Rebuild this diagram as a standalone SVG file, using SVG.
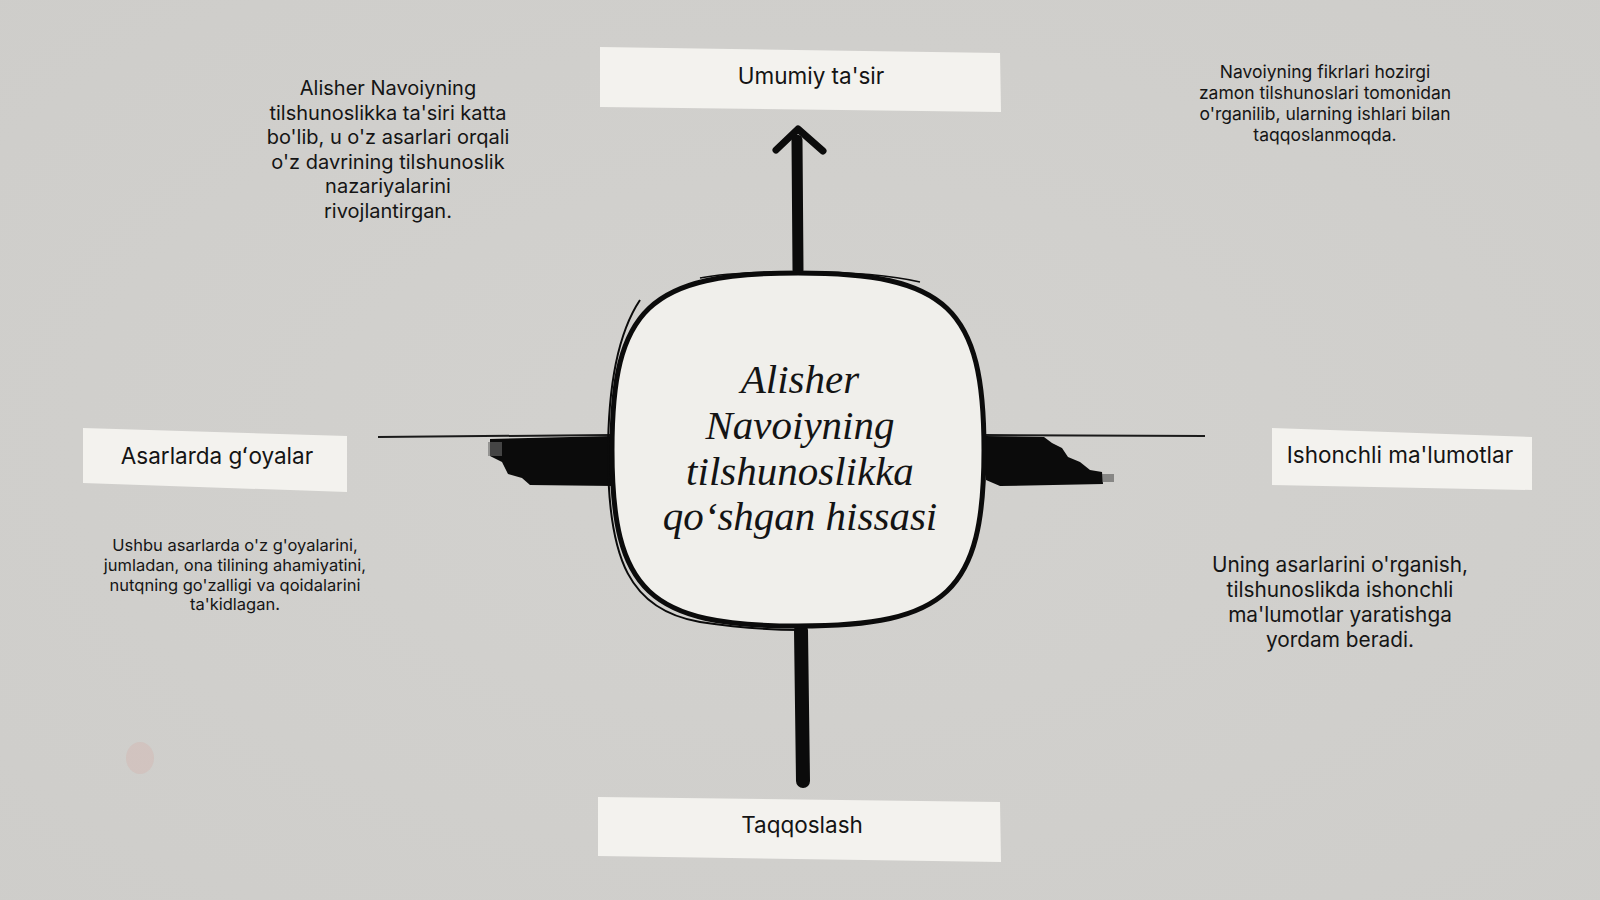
<svg xmlns="http://www.w3.org/2000/svg" width="1600" height="900" viewBox="0 0 1600 900">
<defs>
<style>
.tape{fill:#f3f2ee;}
.lbl{font-family:Inter,"Noto Sans","Liberation Sans",sans-serif;font-size:22.5px;fill:#141414;text-anchor:middle;}
.para{font-family:Inter,"Noto Sans","Liberation Sans",sans-serif;fill:#151515;text-anchor:middle;}
.title{font-family:"Liberation Serif","DejaVu Serif",serif;font-style:italic;font-size:41px;fill:#141414;text-anchor:middle;}
.ink{fill:#0b0b0b;}
</style>
<radialGradient id="bg" cx="0.5" cy="0.5" r="0.75">
<stop offset="0" stop-color="#d3d2cf"/>
<stop offset="1" stop-color="#cecdca"/>
</radialGradient>
</defs>
<rect width="1600" height="900" fill="url(#bg)"/>
<ellipse cx="140" cy="758" rx="14" ry="16" fill="#d9a59a" opacity="0.25"/>

<g id="connectors">
<path d="M798 270 L797 140" stroke="#0b0b0b" stroke-width="11" fill="none" stroke-linecap="round"/>
<path d="M776 150 L798 129 L823 151" stroke="#0b0b0b" stroke-width="7" fill="none" stroke-linecap="round" stroke-linejoin="round"/>
<path d="M801 630 L803 781" stroke="#0b0b0b" stroke-width="14" fill="none" stroke-linecap="round"/>
<path d="M378 437 L612 435" stroke="#1a1a1a" stroke-width="2" fill="none"/>
<polygon class="ink" points="490,439 612,436 614,486 530,485 522,478 508,474 502,462 490,456"/>
<rect x="488" y="442" width="14" height="14" fill="#6a6a6a" opacity="0.6"/>
<path d="M985 435 L1205 436" stroke="#1a1a1a" stroke-width="2" fill="none"/>
<polygon class="ink" points="986,436 1044,437 1052,443 1062,448 1068,457 1080,462 1090,470 1102,472 1103,484 1000,486 986,480"/>
<rect x="1102" y="474" width="12" height="8" fill="#555" opacity="0.6"/>
</g>

<g id="center">
<path d="M798 273 C947 273 984 308 984 450 C984 592 947 626 798 626 C649 626 612 592 612 450 C612 308 649 273 798 273 Z" fill="#f0efeb" stroke="#0b0b0b" stroke-width="5"/>
<path d="M640 300 C620 330 608 380 608 455 C608 560 630 610 700 622 C740 628 770 630 800 630" fill="none" stroke="#0b0b0b" stroke-width="2"/>
<path d="M700 278 C740 270 860 268 920 282" fill="none" stroke="#0b0b0b" stroke-width="1.5"/>
<text class="title" x="800" y="393">Alisher</text>
<text class="title" x="800" y="439">Navoiyning</text>
<text class="title" x="800" y="485">tilshunoslikka</text>
<text class="title" x="800" y="530">qoʻshgan hissasi</text>
</g>

<g id="node-top">
<polygon class="tape" points="600,47 1000,53 1001,112 600,107"/>
<text class="lbl" x="811" y="84">Umumiy ta'sir</text>
</g>

<g id="node-bottom">
<polygon class="tape" points="598,797 1000,802 1001,862 598,856"/>
<text class="lbl" x="802" y="833">Taqqoslash</text>
</g>

<g id="node-left">
<polygon class="tape" points="83,428 347,436 347,492 83,483"/>
<text class="lbl" x="217" y="464">Asarlarda gʻoyalar</text>
</g>

<g id="node-right">
<polygon class="tape" points="1272,428 1532,437 1532,490 1272,485"/>
<text class="lbl" x="1400" y="463">Ishonchli ma'lumotlar</text>
</g>

<g id="text-topleft" class="para" font-size="20">
<text x="388" y="95">Alisher Navoiyning</text>
<text x="388" y="119.5">tilshunoslikka ta'siri katta</text>
<text x="388" y="144">bo'lib, u o'z asarlari orqali</text>
<text x="388" y="168.5">o'z davrining tilshunoslik</text>
<text x="388" y="193">nazariyalarini</text>
<text x="388" y="217.5">rivojlantirgan.</text>
</g>

<g id="text-topright" class="para" font-size="17.5">
<text x="1325" y="78">Navoiyning fikrlari hozirgi</text>
<text x="1325" y="99">zamon tilshunoslari tomonidan</text>
<text x="1325" y="120">o'rganilib, ularning ishlari bilan</text>
<text x="1325" y="141">taqqoslanmoqda.</text>
</g>

<g id="text-bottomleft" class="para" font-size="16.5">
<text x="235" y="551">Ushbu asarlarda o'z g'oyalarini,</text>
<text x="235" y="571">jumladan, ona tilining ahamiyatini,</text>
<text x="235" y="591">nutqning go'zalligi va qoidalarini</text>
<text x="235" y="610">ta'kidlagan.</text>
</g>

<g id="text-bottomright" class="para" font-size="20.8">
<text x="1340" y="572">Uning asarlarini o'rganish,</text>
<text x="1340" y="597">tilshunoslikda ishonchli</text>
<text x="1340" y="622">ma'lumotlar yaratishga</text>
<text x="1340" y="647">yordam beradi.</text>
</g>
</svg>
